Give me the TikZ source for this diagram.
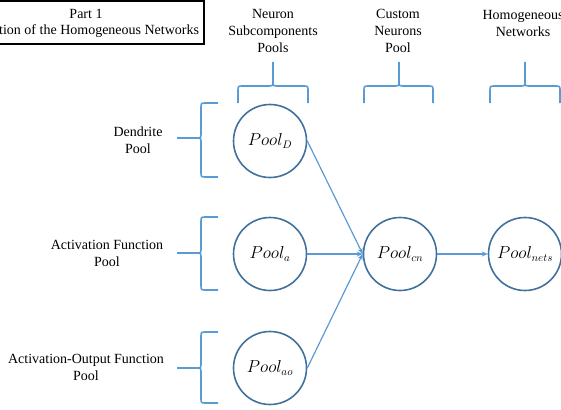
\documentclass[tikz,border=0pt]{standalone}
\usepackage{fontspec}
\setmainfont{Liberation Serif}
\usetikzlibrary{arrows.meta}
\definecolor{circ}{HTML}{41719C}
\definecolor{lblue}{HTML}{5B9BD5}
\begin{document}
\begin{tikzpicture}[x=1pt,y=-1pt,
  pool/.style={circle,draw=circ,line width=1.6pt,minimum size=73pt,inner sep=0pt,font=\fontsize{16}{18}\selectfont},
  lbl/.style={align=center,font=\fontsize{14}{17}\selectfont,inner sep=0pt},
  brace/.style={draw=lblue,line width=1.6pt,line join=round},
  conn/.style={draw=lblue,line width=1.2pt,-{Stealth[length=6pt,width=5pt]}}]
\useasboundingbox (0,0) rectangle (561,409);
\begin{scope}
\clip (0,0) rectangle (561,409);
% title box
\draw[line width=1.6pt] (-5,1) rectangle (204,44);
\node[lbl,anchor=center] (part) at (86,14) {Part 1};
\node[lbl,anchor=west] (ttl) at (-1,31) {tion of the Homogeneous Networks};
% column headers
\node[lbl] (h1) at (273,31) {Neuron\\Subcomponents\\Pools};
\node[lbl] (h2) at (398,31) {Custom\\Neurons\\Pool};
\node[lbl] (h3) at (523,23) {Homogeneous\\Networks};
% row labels
\node[lbl] (r1) at (138,140) {Dendrite\\Pool};
\node[lbl] (r2) at (107,253) {Activation Function\\Pool};
\node[lbl] (r3) at (86,367) {Activation-Output Function\\Pool};
% pools
\node[pool] (pd) at (270,141) {$Pool_{D}$};
\node[pool] (pa) at (270,254) {$Pool_{a}$};
\node[pool] (pao) at (270,368) {$Pool_{ao}$};
\node[pool] (pcn) at (400,254) {$Pool_{cn}$};
\node[pool] (pn) at (525,254) {$Pool_{nets}$};
% connectors
\draw[conn] (pd.east) -- (pcn.west);
\draw[conn] (pa.east) -- (pcn.west);
\draw[conn] (pao.east) -- (pcn.west);
\draw[conn] (pcn.east) -- (pn.west);
% top braces
\foreach \xa/\xm/\xb in {238/273/308, 364/399/433, 490/525/560}{
  \draw[brace] (\xa,103) -- (\xa,91) .. controls (\xa,86) .. (\xa+5,86) -- (\xm-5,86) .. controls (\xm,86) .. (\xm,81) -- (\xm,62);
  \draw[brace] (\xm,81) .. controls (\xm,86) .. (\xm+5,86) -- (\xb-5,86) .. controls (\xb,86) .. (\xb,91) -- (\xb,103);
}
% left braces
\foreach \ya/\ym/\yb in {103/138/177, 217/253/290, 332/368/403}{
  \draw[brace] (218,\ya) -- (206,\ya) .. controls (201,\ya) .. (201,\ya+5) -- (201,\ym-5) .. controls (201,\ym) .. (196,\ym) -- (177,\ym);
  \draw[brace] (196,\ym) .. controls (201,\ym) .. (201,\ym+5) -- (201,\yb-5) .. controls (201,\yb) .. (206,\yb) -- (218,\yb);
}
\end{scope}
\end{tikzpicture}
\end{document}
